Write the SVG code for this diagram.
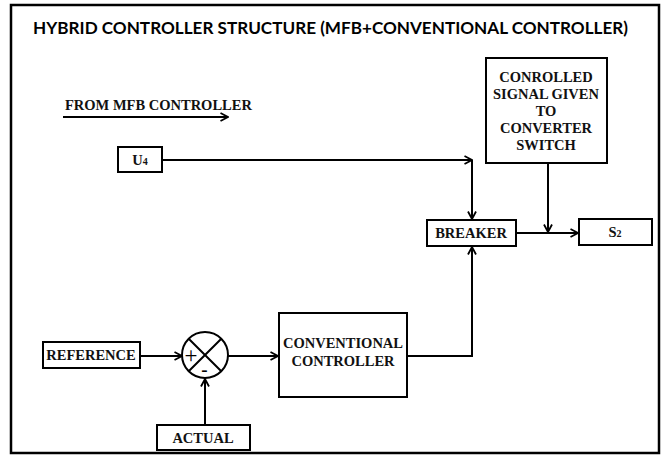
<svg xmlns="http://www.w3.org/2000/svg" width="663" height="456" viewBox="0 0 663 456">
  <style>
    .frame { fill: #fff; stroke: #000; stroke-width: 2.5; }
    .box { fill: #fff; stroke: #000; stroke-width: 2; }
    .wire { fill: none; stroke: #000; stroke-width: 2; }
    .lbl { font-family: "Liberation Serif", "Times New Roman", serif; font-weight: bold; font-size: 14.5px; fill: #111; }
    .mid { text-anchor: middle; }
    .title { font-family: Lato, "Liberation Sans", sans-serif; font-weight: bold; font-size: 17px; fill: #000; }
  </style>
  <defs>
    <marker id="arrow" viewBox="0 0 10 10" refX="9" refY="5" markerWidth="10" markerHeight="10" markerUnits="userSpaceOnUse" orient="auto">
      <path d="M1.5,1 L9,5 L1.5,9" fill="none" stroke="#000" stroke-width="1.8"/>
    </marker>
  </defs>

  <rect class="frame" x="11" y="5" width="648" height="448"/>
  <text class="title" x="33" y="34" textLength="595" lengthAdjust="spacingAndGlyphs">HYBRID CONTROLLER STRUCTURE (MFB+CONVENTIONAL CONTROLLER)</text>

  <g id="legend">
    <text class="lbl" x="65" y="110">FROM MFB CONTROLLER</text>
  </g>

  <g id="u4">
    <rect class="box" x="118" y="147" width="44" height="25"/>
    <text class="lbl mid" x="140" y="165">U<tspan font-size="10">4</tspan></text>
  </g>

  <g id="controlled-signal">
    <rect class="box" x="486" y="58" width="121" height="105"/>
    <text class="lbl mid" x="546" y="82">CONROLLED</text>
    <text class="lbl mid" x="546" y="99">SIGNAL GIVEN</text>
    <text class="lbl mid" x="546" y="116">TO</text>
    <text class="lbl mid" x="546" y="133">CONVERTER</text>
    <text class="lbl mid" x="546" y="150">SWITCH</text>
  </g>

  <g id="breaker">
    <rect class="box" x="427" y="220" width="89" height="26"/>
    <text class="lbl mid" x="471" y="238">BREAKER</text>
  </g>

  <g id="s2">
    <rect class="box" x="579" y="219" width="73" height="26"/>
    <text class="lbl mid" x="615" y="237">S<tspan font-size="10">2</tspan></text>
  </g>

  <g id="reference">
    <rect class="box" x="43" y="342" width="97" height="26"/>
    <text class="lbl mid" x="91" y="360">REFERENCE</text>
  </g>

  <g id="summing-junction">
    <circle class="wire" cx="205" cy="355" r="23" stroke-width="2.5"/>
    <path class="wire" d="M188.7,338.7 L221.3,371.3 M221.3,338.7 L188.7,371.3" stroke-width="2.5"/>
    <text x="191" y="363" font-family="Liberation Serif, serif" font-size="23" text-anchor="middle" fill="#000">+</text>
    <text x="204.5" y="376" font-family="Liberation Serif, serif" font-weight="bold" font-size="19" text-anchor="middle" fill="#000">-</text>
  </g>

  <g id="actual">
    <rect class="box" x="157" y="425" width="93" height="25"/>
    <text class="lbl mid" x="203" y="443">ACTUAL</text>
  </g>

  <g id="conventional-controller">
    <rect class="box" x="279" y="313" width="128" height="84"/>
    <text class="lbl mid" x="343" y="348">CONVENTIONAL</text>
    <text class="lbl mid" x="343" y="366">CONTROLLER</text>
  </g>

  <g id="connectors">
    <line class="wire" x1="63" y1="117" x2="228" y2="117" marker-end="url(#arrow)"/>
    <polyline class="wire" points="162,160 472,160" marker-end="url(#arrow)"/>
    <line class="wire" x1="472" y1="160" x2="472" y2="219" marker-end="url(#arrow)"/>
    <line class="wire" x1="548" y1="163" x2="548" y2="232" marker-end="url(#arrow)"/>
    <line class="wire" x1="516" y1="233" x2="578" y2="233" marker-end="url(#arrow)"/>
    <line class="wire" x1="140" y1="356" x2="182" y2="356" marker-end="url(#arrow)"/>
    <line class="wire" x1="205" y1="425" x2="205" y2="379" marker-end="url(#arrow)"/>
    <line class="wire" x1="228" y1="356" x2="278" y2="356" marker-end="url(#arrow)"/>
    <polyline class="wire" points="407,356 472,356 472,247" marker-end="url(#arrow)"/>
  </g>
</svg>
